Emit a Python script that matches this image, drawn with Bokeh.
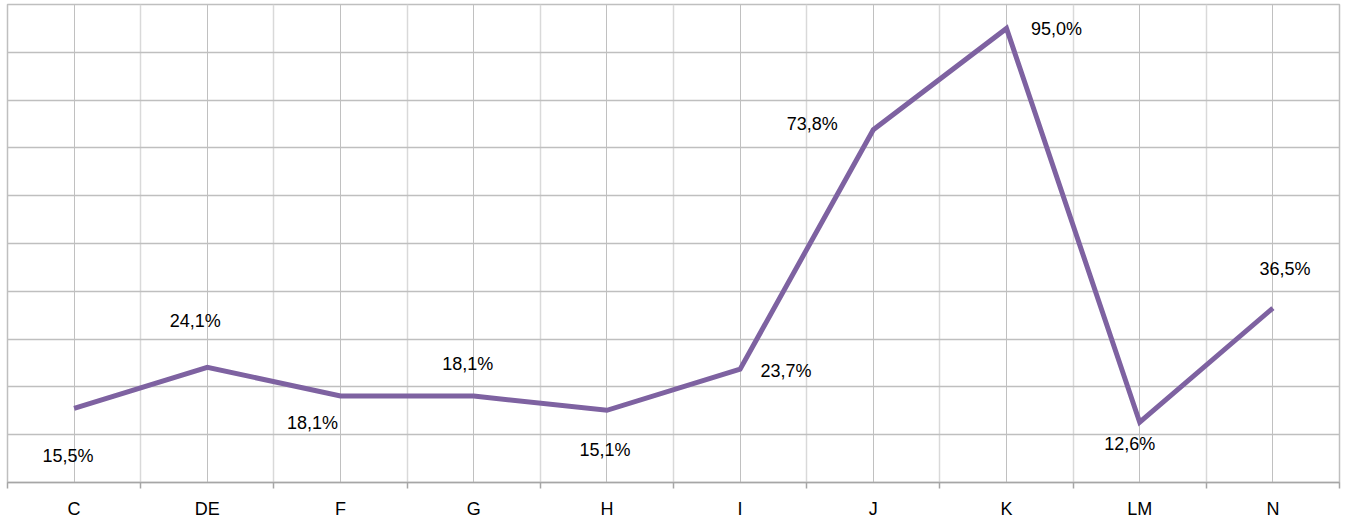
from bokeh.plotting import figure
from bokeh.models import ColumnDataSource, Range1d, FixedTicker
from bokeh.core.properties import value
from bokeh.embed import file_html
from bokeh.resources import INLINE

# ---- data ----
categories = ["C", "DE", "F", "G", "H", "I", "J", "K", "LM", "N"]
values = [15.5, 24.1, 18.1, 18.1, 15.1, 23.7, 73.8, 95.0, 12.6, 36.5]

# label placement (screen pixel offsets, style only)
label_dx = [-6, -12, -28, -6, -2, 46, -61, 50, -10, 12]
label_dy = [48, -46, 27, -32, 40, 2, -6, 1, 22, -39]

FONT = "Liberation Sans"
PURPLE = "#7E62A1"

xs = [i + 0.5 for i in range(len(categories))]
labels = [f"{v:.1f}".replace(".", ",") + "%" for v in values]

src = ColumnDataSource(dict(x=xs, y=values, label=labels, dx=label_dx, dy=label_dy))

p = figure(width=1343, height=521, output_backend="svg", toolbar_location=None,
           x_range=Range1d(0, len(categories)), y_range=Range1d(0, 100),
           min_border_left=7, min_border_right=4, min_border_top=4, min_border_bottom=38)

p.background_fill_color = "white"
p.border_fill_color = "white"
p.outline_line_color = "#bfbfbf"
p.outline_line_width = 1.5

p.yaxis.visible = False

ticker = FixedTicker(ticks=xs, minor_ticks=list(range(len(categories) + 1)))
p.xaxis.ticker = ticker
p.xaxis.major_label_overrides = {x: c for x, c in zip(xs, categories)}
p.xaxis.major_tick_in = 0
p.xaxis.major_tick_out = 0
p.xaxis.minor_tick_in = 0
p.xaxis.minor_tick_out = 6
p.xaxis.minor_tick_line_color = "#a6a6a6"
p.xaxis.minor_tick_line_width = 1.5
p.xaxis.axis_line_color = "#a6a6a6"
p.xaxis.axis_line_width = 1.5
p.xaxis.major_label_text_font = FONT
p.xaxis.major_label_text_font_size = "18px"
p.xaxis.major_label_text_color = "#000000"
p.xaxis.major_label_standoff = 10

p.xgrid.ticker = ticker
p.xgrid.grid_line_color = "#c0c0c0"
p.xgrid.grid_line_width = 1
p.xgrid.minor_grid_line_color = "#d9d9d9"
p.xgrid.minor_grid_line_width = 1.5

p.ygrid.ticker = FixedTicker(ticks=list(range(0, 101, 10)))
p.ygrid.grid_line_color = "#bfbfbf"
p.ygrid.grid_line_width = 1.5

p.line("x", "y", source=src, line_color=PURPLE, line_width=5, line_join="miter")

p.text("x", "y", text="label", source=src, x_offset="dx", y_offset="dy",
       text_align="center", text_baseline="middle",
       text_font=value(FONT), text_font_size="18px", text_color="#000000")

open("out.html", "w").write(file_html(p, INLINE))
